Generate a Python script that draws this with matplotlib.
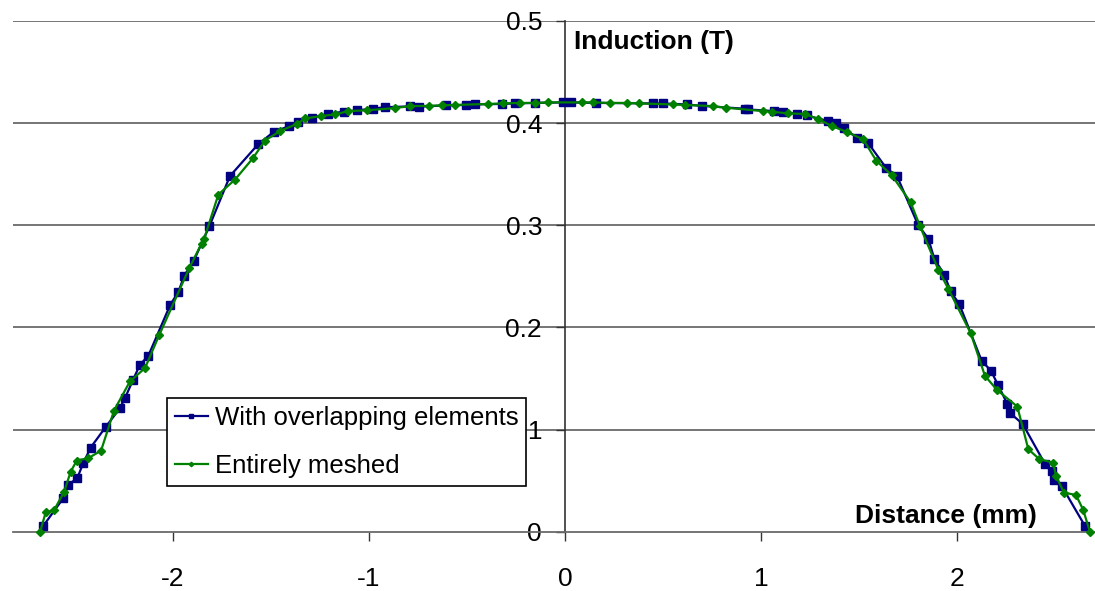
import matplotlib
matplotlib.use("Agg")
import matplotlib.pyplot as plt

plt.rcParams["font.family"] = ["Liberation Sans", "DejaVu Sans"]
plt.rcParams["axes.unicode_minus"] = False

# distance (mm) / induction (T)
overlap_x = [-2.660, -2.558, -2.532, -2.486, -2.456, -2.418, -2.340, -2.269, -2.243, -2.202,
             -2.167, -2.124, -2.012, -1.971, -1.941, -1.892, -1.813, -1.708, -1.564, -1.485,
             -1.406, -1.361, -1.290, -1.207, -1.127, -1.060, -0.981, -0.918, -0.790, -0.743,
             -0.607, -0.505, -0.459, -0.323, -0.255, -0.153, -0.009, 0.029, 0.157, 0.449,
             0.500, 0.620, 0.697, 0.918, 0.934, 1.066, 1.113, 1.183, 1.232, 1.342,
             1.382, 1.421, 1.489, 1.546, 1.638, 1.693, 1.801, 1.852, 1.883, 1.934,
             1.966, 2.010, 2.124, 2.172, 2.207, 2.255, 2.269, 2.333, 2.447, 2.481,
             2.493, 2.532, 2.651]
overlap_y = [0.0056, 0.0327, 0.0458, 0.0526, 0.0671, 0.0824, 0.1029, 0.1210, 0.1308, 0.1487,
             0.1634, 0.1723, 0.2223, 0.2347, 0.2507, 0.2654, 0.2990, 0.3482, 0.3794, 0.3914,
             0.3971, 0.4014, 0.4053, 0.4092, 0.4112, 0.4125, 0.4142, 0.4156, 0.4164, 0.4161,
             0.4174, 0.4178, 0.4183, 0.4188, 0.4193, 0.4198, 0.4203, 0.4203, 0.4198, 0.4193,
             0.4193, 0.4183, 0.4169, 0.4141, 0.4134, 0.4118, 0.4112, 0.4090, 0.4075, 0.4020,
             0.4004, 0.3951, 0.3857, 0.3804, 0.3559, 0.3480, 0.3000, 0.2870, 0.2671, 0.2517,
             0.2353, 0.2229, 0.1674, 0.1575, 0.1438, 0.1252, 0.1161, 0.1056, 0.0664, 0.0598,
             0.0507, 0.0448, 0.0056]

meshed_x = [-2.676, -2.647, -2.604, -2.553, -2.520, -2.489, -2.430, -2.365, -2.299, -2.218,
            -2.141, -2.068, -1.915, -1.853, -1.840, -1.767, -1.682, -1.592, -1.529, -1.453,
            -1.368, -1.323, -1.246, -1.173, -1.105, -1.011, -0.867, -0.790, -0.692, -0.629,
            -0.561, -0.391, -0.315, -0.229, -0.153, -0.085, 0.085, 0.144, 0.229, 0.315,
            0.379, 0.549, 0.612, 0.753, 0.821, 1.008, 1.054, 1.138, 1.224, 1.291,
            1.362, 1.440, 1.521, 1.587, 1.666, 1.762, 1.810, 1.903, 1.954, 2.068,
            2.141, 2.202, 2.306, 2.362, 2.418, 2.489, 2.503, 2.544, 2.605, 2.642,
            2.676]
meshed_y = [0.0000, 0.0190, 0.0213, 0.0392, 0.0588, 0.0696, 0.0720, 0.0794, 0.1186, 0.1471,
            0.1602, 0.1928, 0.2582, 0.2821, 0.2865, 0.3301, 0.3448, 0.3654, 0.3830, 0.3922,
            0.3992, 0.4046, 0.4069, 0.4085, 0.4118, 0.4126, 0.4147, 0.4167, 0.4169, 0.4174,
            0.4178, 0.4188, 0.4193, 0.4198, 0.4198, 0.4203, 0.4203, 0.4203, 0.4198, 0.4198,
            0.4193, 0.4183, 0.4178, 0.4167, 0.4151, 0.4118, 0.4112, 0.4095, 0.4090, 0.4039,
            0.3971, 0.3911, 0.3840, 0.3632, 0.3490, 0.3225, 0.2990, 0.2566, 0.2379, 0.1945,
            0.1526, 0.1389, 0.1225, 0.0808, 0.0710, 0.0676, 0.0546, 0.0382, 0.0360, 0.0213,
            0.0000]

x_ticks = [-2, -1, 0, 1, 2]
y_ticks = [0, 0.1, 0.2, 0.3, 0.4, 0.5]
y_tick_labels = ["0", "0.1", "0.2", "0.3", "0.4", "0.5"]

GRID = "#6a6a6a"
FS = 19

fig = plt.figure(figsize=(10.95, 5.91), dpi=100)
ax = fig.add_axes([13 / 1095, 1 - 531.7 / 591, 1 - 13 / 1095, (531.7 - 21) / 591])
ax.set_xlim(-2.814, 2.702)
ax.set_ylim(0, 0.5)

for s in ["top", "right"]:
    ax.spines[s].set_visible(False)
ax.spines["left"].set_position(("data", 0))
ax.spines["left"].set_color("#333333")
ax.spines["left"].set_linewidth(1.2)
ax.spines["bottom"].set_color(GRID)
ax.spines["bottom"].set_linewidth(1.3)

ax.set_xticks(x_ticks)
ax.set_xticklabels([str(v) for v in x_ticks])
ax.set_yticks(y_ticks)
ax.set_yticklabels(y_tick_labels)
ax.tick_params(axis="x", direction="out", length=6.5, width=1.0, color="#333333",
               labelsize=FS, pad=19)
ax.tick_params(axis="y", direction="out", length=6.5, width=1.0, color="#333333",
               labelsize=FS, pad=10)

for v in y_ticks[1:]:
    ax.axhline(v, color=GRID, linewidth=1.3, zorder=1)

ax.plot(overlap_x, overlap_y, color="#000080", linewidth=1.6, marker="s", markersize=5.5,
        label="With overlapping elements", clip_on=False, zorder=3)
ax.plot(meshed_x, meshed_y, color="#008000", linewidth=1.6, marker="D", markersize=3.8,
        label="Entirely meshed", clip_on=False, zorder=4)

ax.text(0.046, 0.479, "Induction (T)", fontsize=FS, fontweight="bold",
        ha="left", va="center")
ax.text(2.406, 0.0154, "Distance (mm)", fontsize=FS, fontweight="bold",
        ha="right", va="center")

leg = ax.legend(loc="lower left", bbox_to_anchor=(167 / 1095, 1 - 486 / 591),
                bbox_transform=fig.transFigure, borderaxespad=0, fontsize=18.5,
                frameon=True, fancybox=False, edgecolor="black", framealpha=1,
                handlelength=1.3, handletextpad=0.25, labelspacing=0.95,
                borderpad=0.3, markerscale=0.6)
leg.get_frame().set_linewidth(1.2)
leg.set_zorder(10)

fig.savefig("out.png", dpi=100)
